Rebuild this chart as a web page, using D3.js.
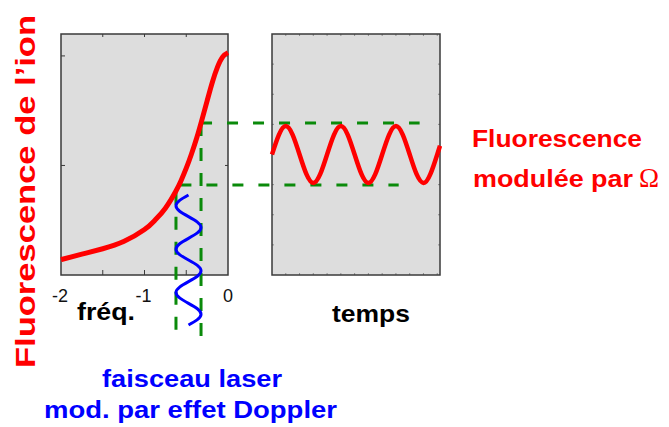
<!DOCTYPE html>
<html><head><meta charset="utf-8">
<script src="https://cdn.jsdelivr.net/npm/d3@7"></script>
<style>body{margin:0;background:#fff}svg{display:block}text{font-family:"Liberation Sans",Arial,sans-serif}</style>
</head><body>
<script>
// Left panel: fluorescence vs detuning
const freq = [-2,-1.75,-1.5,-1.25,-1,-0.875,-0.75,-0.625,-0.5625,-0.5,-0.4375,-0.375,-0.3125,-0.25,-0.1875,-0.125,-0.0625,0];
const fluo = [0.14,0.19,0.24,0.305,0.415,0.50,0.61,0.765,0.861,0.975,1.105,1.25,1.416,1.59,1.76,1.90,1.993,2.03];
const freqTicks = [-2,-1,0];
const freqMinor = [-1.5,-1,-0.5];
const fluoTicks = [1,2];
// Right panel: modulated fluorescence vs time
const time = [0,0.125,0.25,0.375,0.5,0.625,0.75,0.875,1,1.125,1.25,1.375,1.5,1.625,1.75,1.875,2,2.125,2.25,2.375,2.5,2.625,2.75,2.875,3,3.05];
const signal = [1.10,1.28,1.36,1.28,1.10,0.92,0.84,0.92,1.10,1.28,1.36,1.28,1.10,0.92,0.84,0.92,1.10,1.28,1.36,1.28,1.10,0.92,0.84,0.92,1.10,1.18];
// Laser frequency modulated by Doppler effect (vertical wave)
const laserTime = [0,0.125,0.25,0.375,0.5,0.625,0.75,0.875,1,1.125,1.25,1.375,1.5,1.625,1.75,1.875,2,2.125,2.25,2.375,2.5,2.625,2.75,2.875,3];
const laserFreq = [-0.473,-0.579,-0.623,-0.579,-0.473,-0.367,-0.323,-0.367,-0.473,-0.579,-0.623,-0.579,-0.473,-0.367,-0.323,-0.367,-0.473,-0.579,-0.623,-0.579,-0.473,-0.367,-0.323,-0.367,-0.473];
// guide lines
const hGuides = [{fluo:1.388, fromFreq:-0.323, toTime:2.68},{fluo:0.822, fromFreq:-0.57, toTime:2.3}];
const vGuides = [{freq:-0.623, fromFluo:0.76, toFluo:-0.58},{freq:-0.323, fromFluo:1.388, toFluo:-0.58}];

const W=669,H=427;
const svg=d3.select("body").append("svg").attr("width",W).attr("height",H);
const x=d3.scaleLinear([-2,0],[61,228]);
const y=d3.scaleLinear([0,2.2],[275,34]);
const t=d3.scaleLinear([0,3.05],[272,440]);
const tl=d3.scaleLinear([0,3],[195,325]);
const RED="#ff0000",BLUE="#0000ff",GREEN="#0a8a0a",FRAME="#3a3a3a";

// panels
svg.append("rect").attr("x",x(-2)).attr("y",y(2.2)).attr("width",x(0)-x(-2)).attr("height",y(0)-y(2.2)).attr("fill","#dddddd");
svg.append("rect").attr("x",t(0)).attr("y",y(2.2)).attr("width",t(3.05)-t(0)).attr("height",y(0)-y(2.2)).attr("fill","#dddddd");

// ticks left panel
const gl=svg.append("g").attr("stroke",FRAME).attr("stroke-width",1);
freqMinor.forEach(v=>{gl.append("line").attr("x1",x(v)).attr("x2",x(v)).attr("y1",y(0)).attr("y2",y(0)-5);
  gl.append("line").attr("x1",x(v)).attr("x2",x(v)).attr("y1",y(2.2)).attr("y2",y(2.2)+3);});
fluoTicks.forEach(v=>{gl.append("line").attr("x1",x(-2)).attr("x2",x(-2)+4).attr("y1",y(v)).attr("y2",y(v));
  gl.append("line").attr("x1",x(0)).attr("x2",x(0)-3).attr("y1",y(v)).attr("y2",y(v));});
// ticks right panel
const gr=svg.append("g").attr("stroke","#777").attr("stroke-width",0.8);
d3.range(0.25,3.05,0.25).forEach(v=>{gr.append("line").attr("x1",t(v)).attr("x2",t(v)).attr("y1",y(0)).attr("y2",y(0)-2);
  gr.append("line").attr("x1",t(v)).attr("x2",t(v)).attr("y1",y(2.2)).attr("y2",y(2.2)+2);});
d3.range(0.275,2.2,0.275).forEach(v=>{gr.append("line").attr("x1",t(0)).attr("x2",t(0)+2).attr("y1",y(v)).attr("y2",y(v));
  gr.append("line").attr("x1",t(3.05)).attr("x2",t(3.05)-2).attr("y1",y(v)).attr("y2",y(v));});

// frames
svg.append("rect").attr("x",x(-2)).attr("y",y(2.2)).attr("width",x(0)-x(-2)).attr("height",y(0)-y(2.2)).attr("fill","none").attr("stroke",FRAME).attr("stroke-width",1.5);
svg.append("rect").attr("x",t(0)).attr("y",y(2.2)).attr("width",t(3.05)-t(0)).attr("height",y(0)-y(2.2)).attr("fill","none").attr("stroke",FRAME).attr("stroke-width",1.5);

// tick labels
svg.selectAll(".fl").data(freqTicks).enter().append("text").attr("x",d=>x(d)+(d<0?-1:0)).attr("y",301.5)
  .attr("text-anchor","middle").attr("font-size",18).attr("fill","#111").text(d=>d===0?"0":"-"+Math.abs(d));

// guide lines
hGuides.forEach(g=>{
  const x0=x(g.fromFreq),x1=t(g.toTime);
  svg.append("line").attr("x1",x0).attr("x2",x1).attr("y1",y(g.fluo)).attr("y2",y(g.fluo))
   .attr("stroke",GREEN).attr("stroke-width",3).attr("stroke-dasharray","11,15");
});
vGuides.forEach(g=>{
  svg.append("line").attr("x1",x(g.freq)).attr("x2",x(g.freq)).attr("y1",y(g.fromFluo)).attr("y2",y(g.toFluo))
   .attr("stroke",GREEN).attr("stroke-width",3).attr("stroke-dasharray","13,12");
});

// curves
const lineL=d3.line().x((d,i)=>x(freq[i])).y((d,i)=>y(fluo[i])).curve(d3.curveNatural);
svg.append("path").attr("d",lineL(freq)).attr("fill","none").attr("stroke",RED).attr("stroke-width",5);
const lineR=d3.line().x((d,i)=>t(time[i])).y((d,i)=>y(signal[i])).curve(d3.curveNatural);
svg.append("path").attr("d",lineR(time)).attr("fill","none").attr("stroke",RED).attr("stroke-width",4.5);
const lineB=d3.line().x((d,i)=>x(laserFreq[i])).y((d,i)=>tl(laserTime[i])).curve(d3.curveNatural);
svg.append("path").attr("d",lineB(laserTime)).attr("fill","none").attr("stroke",BLUE).attr("stroke-width",3);

// texts
svg.append("text").attr("transform","translate(35,191.5) rotate(-90)").attr("text-anchor","middle")
  .attr("font-size",28).attr("font-weight","bold").attr("fill",RED)
  .attr("textLength",353).attr("lengthAdjust","spacingAndGlyphs").text("Fluorescence de l\u2019ion");
svg.append("text").attr("x",77).attr("y",320).attr("font-size",24).attr("font-weight","bold").attr("fill","#000")
  .attr("textLength",58).attr("lengthAdjust","spacingAndGlyphs").text("fréq.");
svg.append("text").attr("x",332).attr("y",322).attr("font-size",24).attr("font-weight","bold").attr("fill","#000")
  .attr("textLength",78).attr("lengthAdjust","spacingAndGlyphs").text("temps");
svg.append("text").attr("x",472).attr("y",147).attr("font-size",23).attr("font-weight","bold").attr("fill",RED)
  .attr("textLength",170).attr("lengthAdjust","spacingAndGlyphs").text("Fluorescence");
svg.append("text").attr("x",473).attr("y",187).attr("font-size",23).attr("font-weight","bold").attr("fill",RED)
  .attr("textLength",160).attr("lengthAdjust","spacingAndGlyphs").text("modulée par");
svg.append("text").attr("x",639).attr("y",187).attr("font-size",27).attr("fill",RED)
  .style("font-family","'Liberation Serif','Times New Roman',serif").text("\u03A9");
svg.append("text").attr("x",102).attr("y",387).attr("font-size",23).attr("font-weight","bold").attr("fill",BLUE)
  .attr("textLength",180).attr("lengthAdjust","spacingAndGlyphs").text("faisceau laser");
svg.append("text").attr("x",44).attr("y",418).attr("font-size",23).attr("font-weight","bold").attr("fill",BLUE)
  .attr("textLength",293).attr("lengthAdjust","spacingAndGlyphs").text("mod. par effet Doppler");
</script>
</body></html>
